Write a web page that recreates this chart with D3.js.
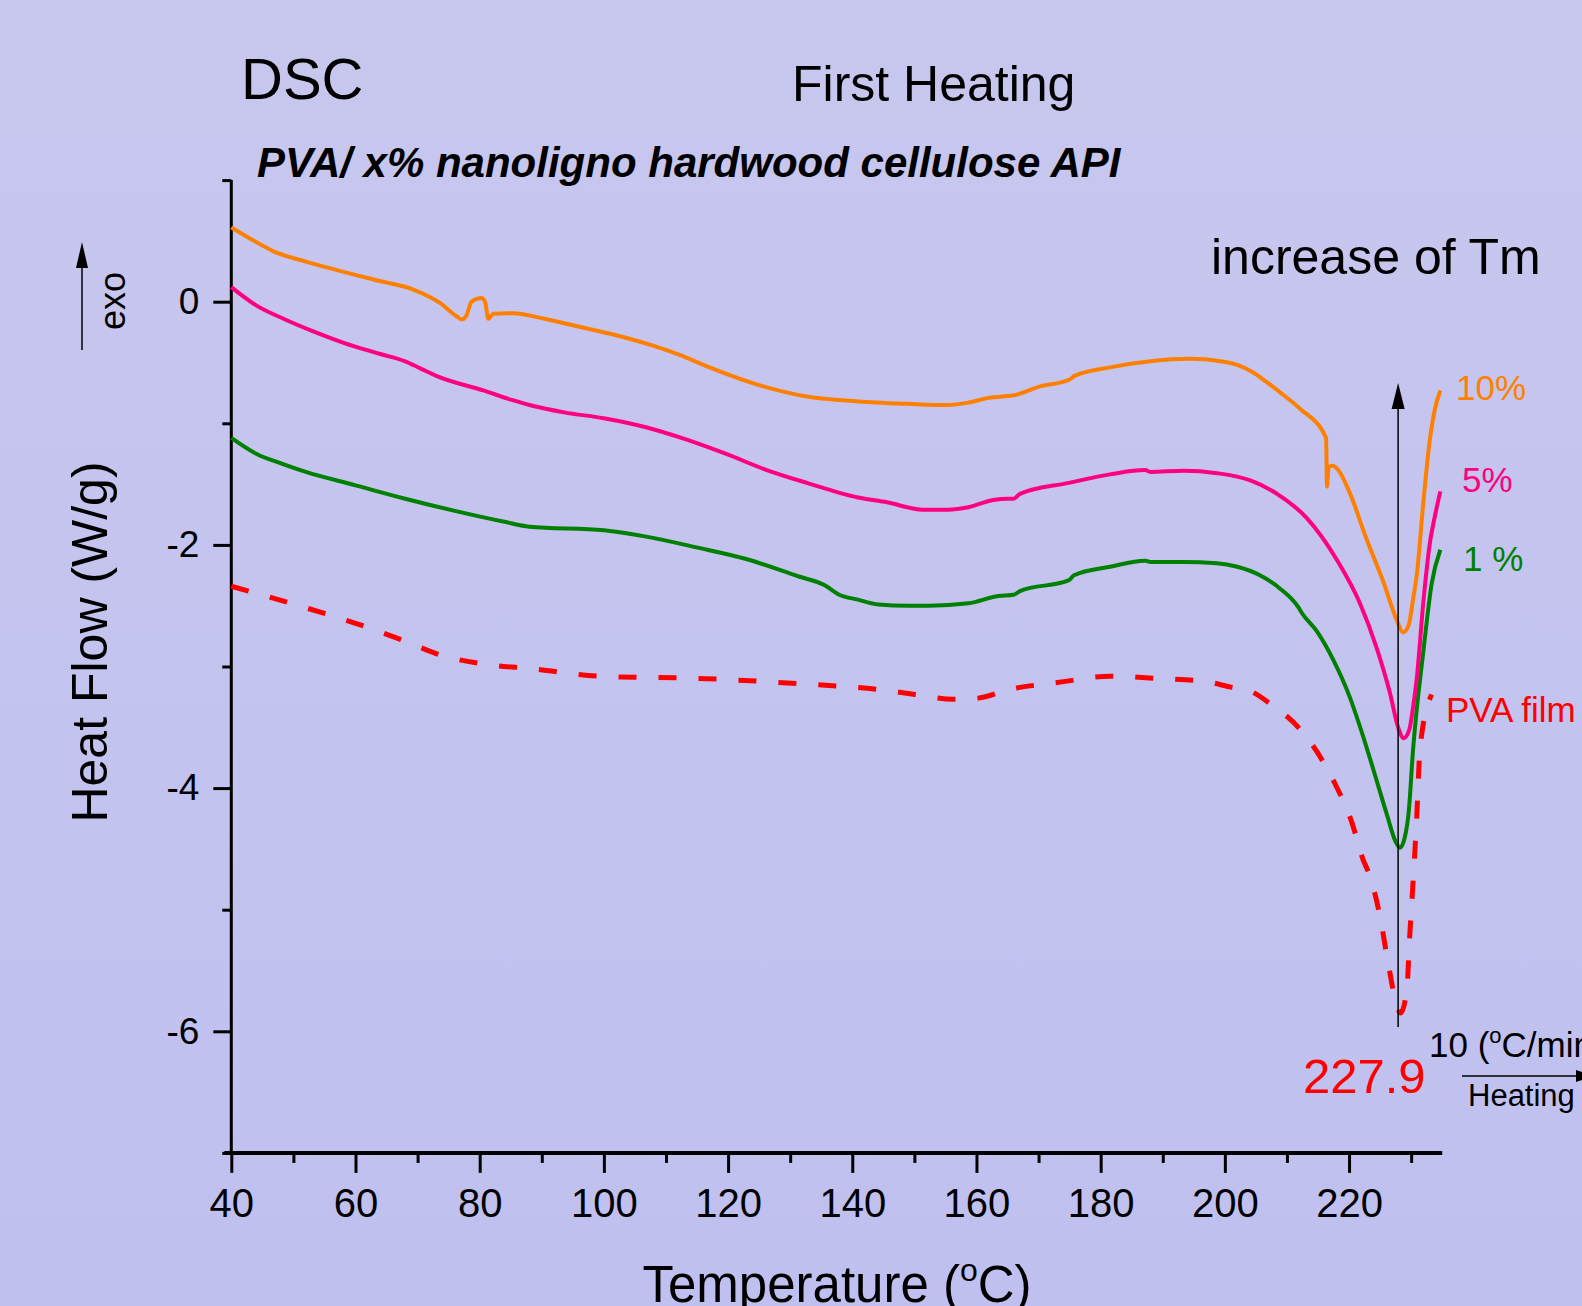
<!DOCTYPE html>
<html><head><meta charset="utf-8">
<script src="https://cdn.jsdelivr.net/npm/d3@7"></script>
<style>
html,body{margin:0;padding:0;background:#C3C3EF;}
svg{display:block;font-family:"Liberation Sans",Arial,sans-serif;}
</style></head>
<body>
<script>
// ---- data (Temperature °C, Heat Flow W/g) ----
const orangeT = [40,43,47,52,57,63.9,69.3,73.6,76.3,77.1,77.8,78.7,80.3,80.85,81.4,82.2,85.4,90.8,96.4,101.5,108.4,112.3,116.5,124.6,132.7,140.9,149,155.4,158.7,162,166,170,175,175.8,181.5,188,194.5,199.3,202,204.5,206.7,209,212.1,216.3,216.45,216.7,217.3,218.2,220.1,222.8,225.5,227.7,228.7,229.6,230.3,230.9,232.0,233.0,233.8,234.7];
const orangeV = [0.61,0.52,0.41,0.33,0.26,0.17,0.10,-0.01,-0.12,-0.145,-0.12,0.0,0.03,0.0,-0.14,-0.10,-0.095,-0.145,-0.21,-0.27,-0.37,-0.44,-0.53,-0.68,-0.78,-0.82,-0.84,-0.85,-0.83,-0.79,-0.77,-0.70,-0.64,-0.61,-0.54,-0.49,-0.47,-0.49,-0.52,-0.58,-0.66,-0.75,-0.88,-1.12,-1.52,-1.36,-1.35,-1.38,-1.57,-1.95,-2.30,-2.62,-2.72,-2.66,-2.45,-2.25,-1.63,-1.14,-0.89,-0.73];

const pinkT = [40,44,48.4,53,58.2,64,68,70.5,73,80.6,85.3,88.8,93.6,100.2,106.6,113.1,119.6,126,132.7,140.9,145.6,151.3,155.4,158.7,162.7,165.2,166,167,174.9,181.5,187.2,188,193.3,198.7,204.1,208.4,213.2,218,221.75,224.4,226.6,227.9,228.8,229.7,230.4,230.9,232.0,233.0,233.8,234.7];
const pinkV = [0.12,-0.03,-0.14,-0.24,-0.34,-0.43,-0.49,-0.55,-0.61,-0.73,-0.81,-0.86,-0.91,-0.96,-1.03,-1.13,-1.25,-1.38,-1.49,-1.61,-1.65,-1.71,-1.71,-1.69,-1.63,-1.62,-1.62,-1.58,-1.49,-1.42,-1.385,-1.40,-1.39,-1.41,-1.47,-1.58,-1.78,-2.12,-2.48,-2.84,-3.22,-3.50,-3.59,-3.52,-3.30,-3.10,-2.45,-1.99,-1.77,-1.56];

const greenT = [40,44,48,52,60,68,76,84,88,100,106.6,114.9,123.2,131.4,135.5,137.9,140.9,144.2,149,152.4,158.7,163.5,166,167,174.9,175.7,181.5,187.2,188,193.3,198.7,202,205.65,208.9,211.8,212.4,214.8,217.5,220.1,222.3,224.4,226.05,227.5,228.2,229.0,229.6,230.3,232,233.3,234.7];
const greenV = [-1.12,-1.25,-1.33,-1.40,-1.51,-1.62,-1.72,-1.81,-1.85,-1.88,-1.93,-2.02,-2.12,-2.26,-2.33,-2.41,-2.45,-2.49,-2.50,-2.50,-2.48,-2.42,-2.41,-2.38,-2.29,-2.25,-2.18,-2.13,-2.14,-2.14,-2.15,-2.18,-2.25,-2.36,-2.51,-2.56,-2.71,-2.95,-3.25,-3.58,-3.93,-4.21,-4.44,-4.49,-4.40,-4.20,-3.69,-2.86,-2.32,-2.04];

const redT = [40,51.2,60.9,67.4,74,80.6,88.8,99.3,116.5,131,144.4,150.1,156.2,160.3,165.2,173.3,181.5,189.6,196.5,201,204,207.4,212,215.8,217.7,220.5,222.2,223.4,225,226.3,227.8,228.3,229.3,229.8,230.3,230.9,231.4,231.6,233.3];
const redV = [-2.34,-2.505,-2.66,-2.78,-2.91,-2.98,-3.02,-3.08,-3.10,-3.14,-3.19,-3.23,-3.27,-3.26,-3.19,-3.13,-3.08,-3.10,-3.12,-3.17,-3.20,-3.31,-3.51,-3.78,-3.96,-4.29,-4.58,-4.73,-5.06,-5.44,-5.81,-5.85,-5.66,-5.19,-4.78,-4.24,-3.69,-3.60,-3.23];

const xMajorTicks = [40,60,80,100,120,140,160,180,200,220];
const xMinorTicks = [50,70,90,110,130,150,170,190,210,230];
const yMajorTicks = [-6,-4,-2,0];
const yMinorTicks = [-7,-5,-3,-1,1];

const seriesNames = ["10%","5%","1 %","PVA film"];
const seriesColors = ["#FF8000","#FF0080","#008000","#FF0000"];
const tmValue = 227.9;

// ---- drawing ----
const W = 1582, H = 1306;
const svg = d3.select("body").append("svg").attr("width", W).attr("height", H);

const defs = svg.append("defs");
const grad = defs.append("linearGradient").attr("id","bg").attr("x1",0).attr("y1",0).attr("x2",0).attr("y2",1);
grad.append("stop").attr("offset","0%").attr("stop-color","#C7C7EE");
grad.append("stop").attr("offset","100%").attr("stop-color","#C0C0F0");
svg.append("rect").attr("width",W).attr("height",H).attr("fill","url(#bg)");

const x = d3.scaleLinear().domain([40,235]).range([231.3,1442.2]);
const y = d3.scaleLinear().domain([-7,1]).range([1152.9,180.1]);

// axes
svg.append("g").attr("transform",`translate(0,${y(-7)})`)
  .call(d3.axisBottom(x).tickValues(xMinorTicks).tickSize(10).tickFormat(""));
const xAxisMaj = svg.append("g").attr("transform",`translate(0,${y(-7)})`)
  .call(d3.axisBottom(x).tickValues(xMajorTicks).tickSize(20).tickPadding(16).tickSizeOuter(0).tickFormat(d3.format("d")));
svg.append("g").attr("transform",`translate(${x(40)},0)`)
  .call(d3.axisLeft(y).tickValues(yMinorTicks).tickSize(9).tickFormat(""));
const yAxisMaj = svg.append("g").attr("transform",`translate(${x(40)},0)`)
  .call(d3.axisLeft(y).tickValues(yMajorTicks).tickSize(18).tickPadding(14).tickSizeOuter(0).tickFormat(d=>d===0?"0":"-"+Math.abs(d)));

svg.selectAll(".domain").remove();
svg.selectAll(".tick line").attr("stroke","#000").attr("stroke-width",3);
xAxisMaj.selectAll("text").attr("font-size",40).attr("fill","#000").attr("font-family","Liberation Sans, Arial, sans-serif");
yAxisMaj.selectAll("text").attr("font-size",37).attr("fill","#000").attr("font-family","Liberation Sans, Arial, sans-serif");

svg.append("line").attr("x1",x(40)-7).attr("x2",x(235)).attr("y1",y(-7)).attr("y2",y(-7))
  .attr("stroke","#000").attr("stroke-width",4);
svg.append("line").attr("x1",x(40)).attr("x2",x(40)).attr("y1",y(1)).attr("y2",y(-7))
  .attr("stroke","#000").attr("stroke-width",3);

// series
const line = d3.line().x(d=>x(d[0])).y(d=>y(d[1])).curve(d3.curveMonotoneX);
const series = [
  {T:orangeT, V:orangeV},
  {T:pinkT, V:pinkV},
  {T:greenT, V:greenV},
  {T:redT, V:redV}
];
[3,2,1,0].forEach(i=>{
  const s = series[i];
  const pts = s.T.map((t,j)=>[t,s.V[j]]);
  svg.append("path").datum(pts).attr("d",line)
    .attr("fill","none").attr("stroke",seriesColors[i])
    .attr("stroke-width", i===3?5:4)
    .attr("stroke-linejoin","round")
    .attr("stroke-dasharray", i===3?"18,22":null);
});

// Tm arrow
const ax = x(tmValue);
svg.append("line").attr("x1",ax).attr("x2",ax).attr("y1",1027).attr("y2",405)
  .attr("stroke","#000").attr("stroke-width",1.5);
svg.append("path").attr("d",`M${ax},383 L${ax-6.5},409 L${ax+6.5},409 Z`).attr("fill","#000");

// exo arrow
svg.append("line").attr("x1",82).attr("x2",82).attr("y1",350).attr("y2",265)
  .attr("stroke","#000").attr("stroke-width",1.5);
svg.append("path").attr("d","M82,242 L76,268 L88,268 Z").attr("fill","#000");
svg.append("text").attr("transform","translate(125,301) rotate(-90)").attr("text-anchor","middle")
  .attr("font-size",36).text("exo");

// heating arrow
svg.append("line").attr("x1",1462).attr("x2",1580).attr("y1",1076).attr("y2",1076)
  .attr("stroke","#000").attr("stroke-width",1.5);
svg.append("path").attr("d","M1594,1076 L1576,1070 L1576,1082 Z").attr("fill","#000");

// titles
svg.append("text").attr("x",241).attr("y",99).attr("font-size",58).text("DSC");
svg.append("text").attr("x",792).attr("y",101).attr("font-size",50).text("First Heating");
svg.append("text").attr("x",257).attr("y",177).attr("font-size",42).attr("font-weight","bold")
  .attr("font-style","italic").text("PVA/ x% nanoligno hardwood cellulose API");
svg.append("text").attr("x",1211).attr("y",274).attr("font-size",50).text("increase of Tm");

// axis titles
const xt = svg.append("text").attr("x",837).attr("y",1302).attr("text-anchor","middle").attr("font-size",51);
xt.append("tspan").text("Temperature (");
xt.append("tspan").attr("font-size",32).attr("dy",-21).text("o");
xt.append("tspan").attr("dy",21).text("C)");
svg.append("text").attr("transform","translate(106.5,642) rotate(-90)").attr("text-anchor","middle")
  .attr("font-size",50).text("Heat Flow (W/g)");

// series labels
const labelPos = [[1456,400],[1462,492],[1463,571],[1446,722]];
seriesNames.forEach((n,i)=>{
  svg.append("text").attr("x",labelPos[i][0]).attr("y",labelPos[i][1])
    .attr("font-size",35).attr("fill",seriesColors[i]).text(n);
});

// Tm value
svg.append("text").attr("x",1303).attr("y",1093).attr("font-size",49).attr("fill","#FF0000").text(tmValue.toFixed(1));

// rate text
const rt = svg.append("text").attr("x",1429).attr("y",1057).attr("font-size",35);
rt.append("tspan").text("10 (");
rt.append("tspan").attr("font-size",22).attr("dy",-14).text("o");
rt.append("tspan").attr("dy",14).text("C/min)");
svg.append("text").attr("x",1468).attr("y",1106).attr("font-size",31).text("Heating");
</script>
</body></html>
